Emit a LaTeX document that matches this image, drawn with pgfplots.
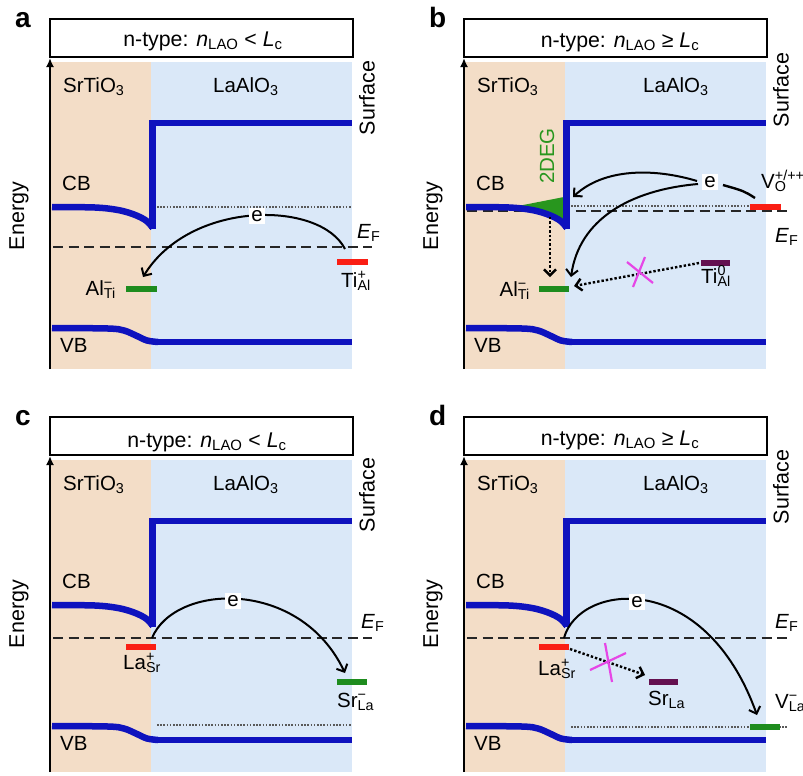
\documentclass[border=0pt]{standalone}
\usepackage{pgfplots}
\pgfplotsset{compat=1.18}
\usetikzlibrary{arrows.meta}
\usepackage{fontspec}
\setmainfont{Liberation Sans}

\definecolor{peach}{RGB}{243,221,199}
\definecolor{lblue}{RGB}{218,232,248}
\definecolor{bandblue}{RGB}{14,18,190}
\definecolor{defred}{RGB}{250,30,20}
\definecolor{defgreen}{RGB}{30,140,30}
\definecolor{defpurple}{RGB}{100,16,80}
\definecolor{xmag}{RGB}{230,70,230}
\definecolor{degreen}{RGB}{40,150,30}

\newcommand\lbl{\fontsize{20.5}{24}\selectfont}
\newcommand\rotlbl{\fontsize{21.5}{24}\selectfont}
\newcommand\ttl{\fontsize{21.3}{26}\selectfont}
\newcommand\dfc[3]{#1\rlap{\textsuperscript{#2}}\textsubscript{#3}}

\pgfplotsset{
 panel/.style={anchor=north west, scale only axis, width=400pt, height=390pt,
   xmin=0, xmax=400, ymin=0, ymax=390, y dir=reverse, hide axis, clip=false},
 bnd/.style={line width=6.5pt, color=bandblue},
 lvl/.style={line width=6pt},
 efl/.style={line width=2.6pt, color=black!85, dash pattern=on 10pt off 5.5pt},
 dtl/.style={line width=1.6pt, color=black!65, dash pattern=on 1.6pt off 1.6pt},
}
\tikzset{
 arr/.style={line width=2pt, -{Straight Barb[length=6pt,width=12pt]}},
 darr/.style={line width=2.4pt, dash pattern=on 2.4pt off 2pt, -{Straight Barb[length=6pt,width=12pt]}},
 xm/.style={line width=2.2pt, color=xmag},
 tl/.style={inner sep=0pt, font=\lbl},
}

% #1 letter, #2 title, #3 title x, #4 title baseline, #5 bottom, #6 LaAlO3 x, #7 Surface y
\newcommand\common[7]{%
 \addplot[fill=peach, draw=none] coordinates {(50,62) (151,62) (151,#5) (50,#5)} -- cycle;
 \addplot[fill=lblue, draw=none] coordinates {(151,62) (352,62) (352,#5) (151,#5)} -- cycle;
 \draw[line width=2pt] (axis cs:50,19) rectangle (axis cs:353,57);
 \node[anchor=base, inner sep=0pt, font=\ttl] at (axis cs:#3,#4) {#2};
 \node[anchor=base west, inner sep=0pt, font=\fontsize{28}{30}\selectfont\bfseries] at (axis cs:15,27) {#1};
 \node[tl, anchor=base west] at (axis cs:63,92) {SrTiO\textsubscript{3}};
 \node[tl, anchor=base west] at (axis cs:#6,92) {LaAlO\textsubscript{3}};
 \node[tl, anchor=base west] at (axis cs:62,190) {CB};
 \node[tl, anchor=base west] at (axis cs:60,352) {VB};
 \node[rotate=90, inner sep=0pt, font=\rotlbl] at (axis cs:367,#7) {Surface};
 \node[rotate=90, inner sep=0pt, font=\rotlbl] at (axis cs:19,216) {Energy};
}
\newcommand\bands{%
 \addplot[bnd, smooth, tension=0.55] coordinates {(52,207) (95,207.5) (118,210) (134,214.5) (146,220.5) (153,228)};
 \addplot[bnd, sharp plot, line join=miter] coordinates {(152.5,229) (152.5,123) (352,123)};
 \addplot[bnd, smooth, tension=0.55] coordinates {(52,328) (108,328.5) (124,330.5) (137,336) (147,340.5) (158,342)};
 \addplot[bnd, sharp plot] coordinates {(157,342) (352,342)};
}
\newcommand\energyaxis[1]{%
 \draw[line width=2.5pt, -{Latex[length=9pt,width=8pt]}] (axis cs:50,#1) -- (axis cs:50,58);
}

\begin{document}
\begin{tikzpicture}
\useasboundingbox (0pt,0pt) rectangle (803pt,-776pt);
\clip (0pt,0pt) rectangle (803pt,-776pt);

% ---------------- panel a ----------------
\begin{axis}[panel, at={(0pt,0pt)}]
 \common{a}{n-type: \textit{n}\textsubscript{LAO} < \textit{L}\textsubscript{c}}{203}{46}{369}{213}{98}
 \addplot[dtl] coordinates {(157,207) (352,207)};
 \addplot[efl] coordinates {(53,247) (372,247)};
 \bands
 \energyaxis{369}
 \addplot[lvl, defgreen] coordinates {(126,289) (157,289)};
 \addplot[lvl, defred] coordinates {(337,262) (368,262)};
 \draw[arr] (axis cs:345,249) .. controls (axis cs:320,200) and (axis cs:190,200) .. (axis cs:143,277);
 \node[fill=white, inner sep=2pt, font=\lbl] at (axis cs:257,216) {e};
 \node[tl, anchor=base east] at (axis cs:116,295) {\dfc{Al}{−}{Ti}};
 \node[tl, anchor=base west] at (axis cs:341,287) {\dfc{Ti}{+}{Al}};
 \node[tl, anchor=base west] at (axis cs:357,238) {\textit{E}\textsubscript{F}};
\end{axis}

% ---------------- panel b ----------------
\begin{axis}[panel, at={(414pt,0pt)}]
 \common{b}{n-type: \textit{n}\textsubscript{LAO} ≥ \textit{L}\textsubscript{c}}{206}{47}{369}{229}{90}
 \addplot[efl] coordinates {(53,211) (373,211)};
 \addplot[dtl] coordinates {(157,206) (336,206)};
 \addplot[fill=degreen, draw=none] coordinates {(104,206) (150,197) (152,224) (135,212)} -- cycle;
 \bands
 \energyaxis{369}
 \node[rotate=90, inner sep=0pt, font=\lbl, text=degreen] at (axis cs:133,156) {2DEG};
 \addplot[lvl, defred] coordinates {(336,207) (367,207)};
 \addplot[lvl, defgreen] coordinates {(125,289) (155,289)};
 \addplot[lvl, defpurple] coordinates {(287,263) (316,263)};
 \draw[darr] (axis cs:136,217) -- (axis cs:136,277);
 \draw[darr] (axis cs:285,263) -- (axis cs:160,286);
 \draw[xm] (axis cs:213,262) -- (axis cs:239,283);
 \draw[xm] (axis cs:231,257) -- (axis cs:219,287);
 \draw[line width=2.4pt] (axis cs:341,198) .. controls (axis cs:330,191) .. (axis cs:309,185);
 \draw[arr] (axis cs:283,181) .. controls (axis cs:240,168) and (axis cs:190,168) .. (axis cs:159,197);
 \draw[arr] (axis cs:284,184) .. controls (axis cs:215,190) and (axis cs:165,220) .. (axis cs:157,277);
 \node[fill=white, inner sep=2pt, font=\lbl] at (axis cs:296,182) {e};
 \node[tl, anchor=base east] at (axis cs:116,296) {\dfc{Al}{−}{Ti}};
 \node[tl, anchor=base west] at (axis cs:287,283) {\dfc{Ti}{0}{Al}};
 \node[tl, anchor=base west] at (axis cs:347,188) {\dfc{V}{+/++}{O}};
 \node[tl, anchor=base west] at (axis cs:361,242) {\textit{E}\textsubscript{F}};
\end{axis}

% ---------------- panel c ----------------
\begin{axis}[panel, at={(0pt,-398pt)}]
 \common{c}{n-type: \textit{n}\textsubscript{LAO} < \textit{L}\textsubscript{c}}{207}{49}{374}{213}{97}
 \addplot[efl] coordinates {(53,240) (372,240)};
 \addplot[dtl] coordinates {(157,327) (352,327)};
 \bands
 \energyaxis{374}
 \addplot[lvl, defred] coordinates {(126,249) (156,249)};
 \addplot[lvl, defgreen] coordinates {(337,284) (367,284)};
 \draw[arr] (axis cs:152,240) .. controls (axis cs:175,185) and (axis cs:300,180) .. (axis cs:345,275);
 \node[fill=white, inner sep=2pt, font=\lbl] at (axis cs:233,203) {e};
 \node[tl, anchor=base west] at (axis cs:123,271) {\dfc{La}{+}{Sr}};
 \node[tl, anchor=base west] at (axis cs:337,309) {\dfc{Sr}{−}{La}};
 \node[tl, anchor=base west] at (axis cs:361,230) {\textit{E}\textsubscript{F}};
\end{axis}

% ---------------- panel d ----------------
\begin{axis}[panel, at={(414pt,-398pt)}]
 \common{d}{n-type: \textit{n}\textsubscript{LAO} ≥ \textit{L}\textsubscript{c}}{206}{47}{374}{229}{89}
 \addplot[efl] coordinates {(53,240) (373,240)};
 \addplot[dtl] coordinates {(157,329) (373,329)};
 \bands
 \energyaxis{374}
 \addplot[lvl, defred] coordinates {(125,249) (155,249)};
 \addplot[lvl, defpurple] coordinates {(235,284) (264,284)};
 \addplot[lvl, defgreen] coordinates {(336,329) (366,329)};
 \draw[darr] (axis cs:156,251) -- (axis cs:231,277);
 \draw[xm] (axis cs:176,272) -- (axis cs:212,255);
 \draw[xm] (axis cs:191,245) -- (axis cs:198,284);
 \draw[arr] (axis cs:150,240) .. controls (axis cs:165,185) and (axis cs:290,170) .. (axis cs:343,317);
 \node[fill=white, inner sep=2pt, font=\lbl] at (axis cs:223,204) {e};
 \node[tl, anchor=base west] at (axis cs:124,277) {\dfc{La}{+}{Sr}};
 \node[tl, anchor=base west] at (axis cs:234,307) {Sr\textsubscript{La}};
 \node[tl, anchor=base west] at (axis cs:361,310) {\dfc{V}{−}{La}};
 \node[tl, anchor=base west] at (axis cs:361,230) {\textit{E}\textsubscript{F}};
\end{axis}
\end{tikzpicture}
\end{document}
